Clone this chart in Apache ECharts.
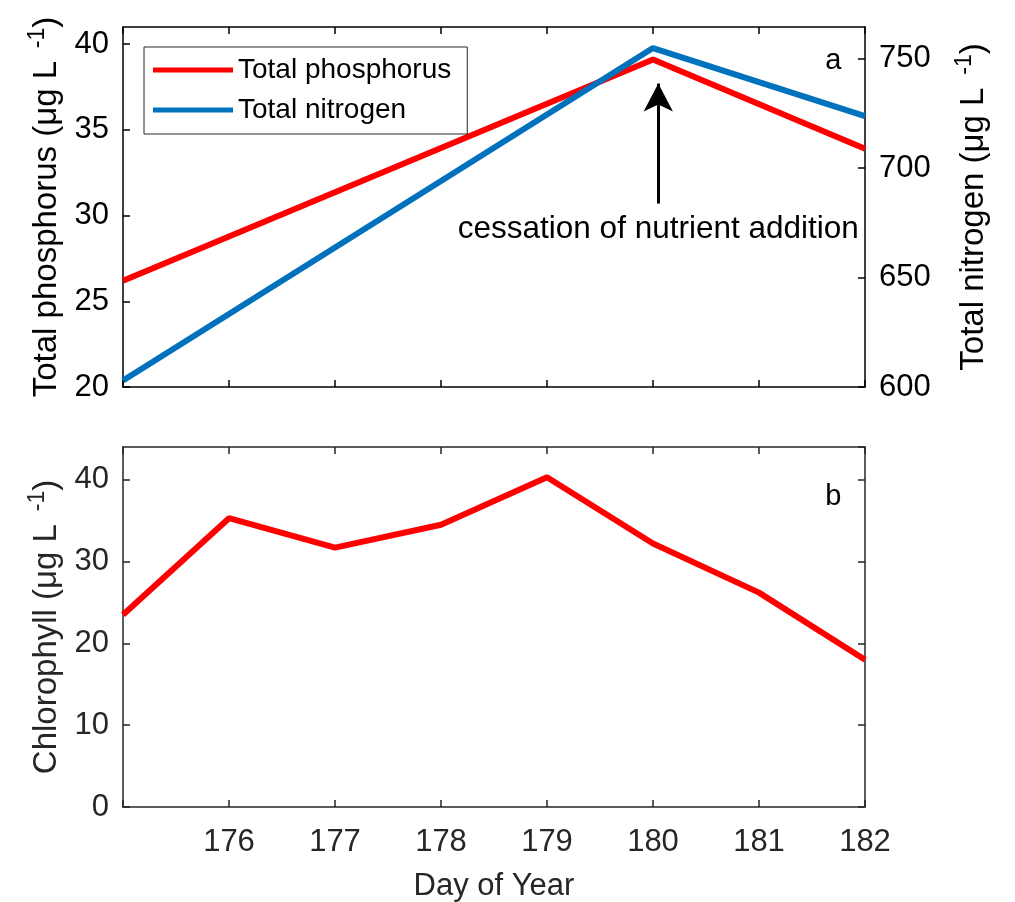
<!DOCTYPE html>
<html>
<head>
<meta charset="utf-8">
<script src="https://cdn.jsdelivr.net/npm/echarts@6/dist/echarts.min.js"></script>
<style>
html, body { margin: 0; padding: 0; background: #fff; }
#chart { width: 1015px; height: 902px; }
</style>
</head>
<body>
<div id="chart"></div>
<script>
// panel a - nutrients
const nutrientDays = [175, 180, 182];
const totalPhosphorus = [26.2, 39.1, 33.9];
const totalNitrogen = [603, 754.8, 723.7];
// panel b - chlorophyll
const chlDays = [175, 176, 177, 178, 179, 180, 181, 182];
const chlorophyll = [23.5, 35.3, 31.7, 34.5, 40.3, 32.2, 26.2, 18.0];
const dayTicks = [176, 177, 178, 179, 180, 181, 182];
// arrow marking the end of nutrient addition (day, TP axis values)
const arrowDay = 180.05;
const arrowFrom = 37.7;
const arrowTo = 30.7;

const FONT = "'Liberation Sans', Arial, Helvetica, sans-serif";
const DARK = '#262626';

function pair(xs, ys) {
  return xs.map((x, i) => [x, ys[i]]);
}

function frameX(grid, pos, color, labels) {
  return {
    type: 'value', gridIndex: grid, position: pos,
    min: 175, max: 182, interval: 1,
    axisLine: { show: true, onZero: false, lineStyle: { color: color, width: 1.5 } },
    axisTick: { show: true, inside: true, length: 7, lineStyle: { color: color, width: 1.5 } },
    axisLabel: labels ? {
      show: true, margin: 20, fontSize: 31, fontFamily: FONT, color: color,
      formatter: v => dayTicks.indexOf(v) >= 0 ? String(v) : ''
    } : { show: false },
    splitLine: { show: false }
  };
}

function axisTitle(main) {
  return '{n|' + main + ' (μg L}{s|  -1}{n|)}';
}
function titleRich(color) {
  return {
    n: { fontSize: 33, fontFamily: FONT, color: color, lineHeight: 42 },
    s: { fontSize: 23, fontFamily: FONT, color: color, lineHeight: 22, verticalAlign: 'top' }
  };
}

function frameY(grid, pos, color, min, max, interval, labels, title, gap) {
  const ax = {
    type: 'value', gridIndex: grid, position: pos,
    min: min, max: max, interval: interval,
    axisLine: { show: true, onZero: false, lineStyle: { color: color, width: 1.5 } },
    axisTick: { show: true, inside: true, length: 7, lineStyle: { color: color, width: 1.5 } },
    axisLabel: labels ? {
      show: true, margin: 14, fontSize: 31, fontFamily: FONT, color: color, showMaxLabel: false
    } : { show: false },
    splitLine: { show: false }
  };
  if (title) {
    ax.name = axisTitle(title);
    ax.nameLocation = 'middle';
    ax.nameRotate = 90;
    ax.nameGap = gap;
    ax.nameTextStyle = { rich: titleRich(color) };
  }
  return ax;
}

const chart = echarts.init(document.getElementById('chart'));

const option = {
  backgroundColor: '#fff',
  animation: false,
  grid: [
    { left: 123, top: 27, width: 742, height: 360, outerBoundsMode: 'none' },
    { left: 123, top: 447, width: 742, height: 360, outerBoundsMode: 'none' }
  ],
  xAxis: [
    frameX(0, 'bottom', '#000', false),
    frameX(0, 'top', '#000', false),
    Object.assign(frameX(1, 'bottom', DARK, true), {
      name: 'Day of Year', nameLocation: 'middle', nameGap: 64,
      nameTextStyle: { fontSize: 31, fontFamily: FONT, color: DARK }
    }),
    frameX(1, 'top', DARK, false)
  ],
  yAxis: [
    frameY(0, 'left', '#000', 20, 41, 5, true, 'Total phosphorus', 54),
    frameY(0, 'right', '#000', 600, 764.4, 50, true, 'Total nitrogen', 88),
    frameY(1, 'left', DARK, 0, 44, 10, true, 'Chlorophyll', 54),
    frameY(1, 'right', DARK, 0, 44, 10, false, null, 0)
  ],
  legend: {
    data: ['Total phosphorus', 'Total nitrogen'],
    orient: 'vertical',
    left: 144, top: 47,
    icon: 'rect',
    itemWidth: 80, itemHeight: 5,
    itemGap: 12,
    padding: [9, 16, 10, 9],
    borderColor: DARK, borderWidth: 1,
    backgroundColor: '#fff',
    textStyle: { fontSize: 28, fontFamily: FONT, color: '#000' }
  },
  series: [
    {
      name: 'Total phosphorus', type: 'line',
      xAxisIndex: 0, yAxisIndex: 0,
      data: pair(nutrientDays, totalPhosphorus),
      symbol: 'none', color: '#ff0000',
      lineStyle: { width: 6, color: '#ff0000' },
      z: 3,
      markLine: {
        silent: true,
        symbol: ['arrow', 'none'],
        symbolSize: [22, 28],
        lineStyle: { color: '#000', width: 3, type: 'solid' },
        label: {
          show: true, position: 'end', distance: 10,
          formatter: 'cessation of nutrient addition',
          fontSize: 31.5, fontFamily: FONT, color: '#000'
        },
        data: [[{ coord: [arrowDay, arrowFrom] }, { coord: [arrowDay, arrowTo] }]]
      }
    },
    {
      name: 'Total nitrogen', type: 'line',
      xAxisIndex: 0, yAxisIndex: 1,
      data: pair(nutrientDays, totalNitrogen),
      symbol: 'none', color: '#0072bd',
      lineStyle: { width: 6, color: '#0072bd' },
      z: 4
    },
    {
      name: 'Chlorophyll', type: 'line',
      xAxisIndex: 2, yAxisIndex: 2,
      data: pair(chlDays, chlorophyll),
      symbol: 'none', color: '#ff0000',
      lineStyle: { width: 6, color: '#ff0000' }
    }
  ]
};

chart.setOption(option);

// panel letters placed through the axes' own scales
const posA = chart.convertToPixel({ xAxisIndex: 0, yAxisIndex: 0 }, [181.7, 39.0]);
const posB = chart.convertToPixel({ xAxisIndex: 2, yAxisIndex: 2 }, [181.7, 37.9]);
chart.setOption({
  graphic: [
    { type: 'text', x: posA[0], y: posA[1], style: { text: 'a', fontSize: 29, fontFamily: FONT, fill: '#000', align: 'center', verticalAlign: 'middle' } },
    { type: 'text', x: posB[0], y: posB[1], style: { text: 'b', fontSize: 29, fontFamily: FONT, fill: '#000', align: 'center', verticalAlign: 'middle' } }
  ]
});
</script>
</body>
</html>
